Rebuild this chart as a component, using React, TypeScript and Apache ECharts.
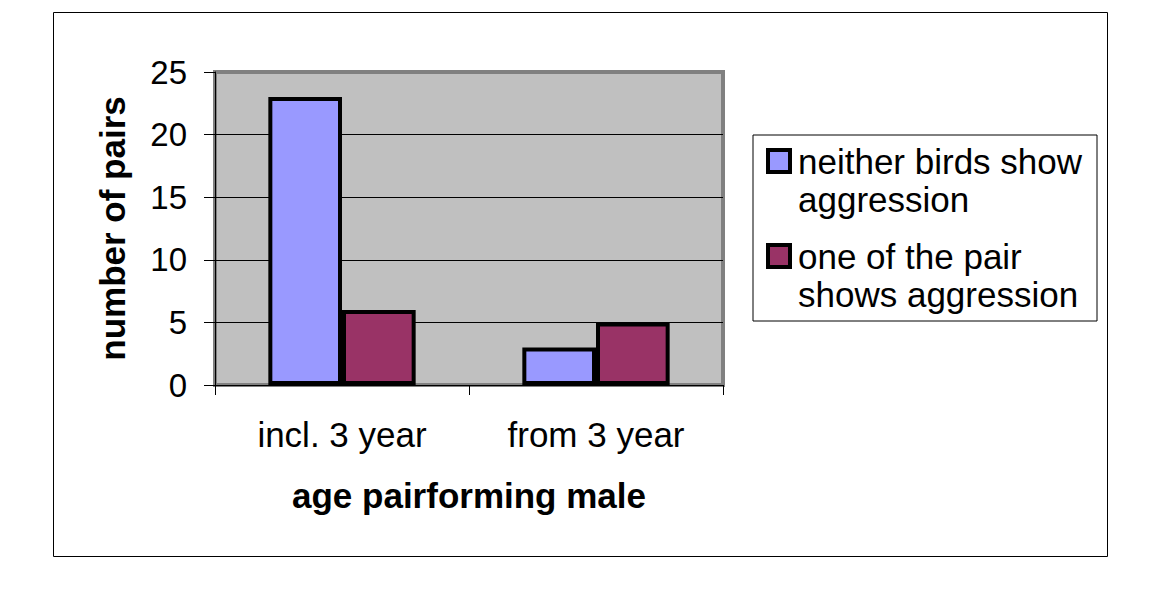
import React, { useEffect, useRef } from "react";
import * as echarts from "echarts";

const categories = ["incl. 3 year", "from 3 year"];
const seriesNames = ["neither birds show aggression", "one of the pair shows aggression"];
const legendLabels = ["neither birds show\naggression", "one of the pair\nshows aggression"];
const neitherValues = [23, 3];
const oneOfPairValues = [6, 5];
const yTicks = { min: 0, max: 25, interval: 5 };

const FONT = "'Liberation Sans', Arial, sans-serif";

export default function App() {
  const ref = useRef<HTMLDivElement>(null);
  useEffect(() => {
    if (!ref.current) return;
    const chart = echarts.init(ref.current, undefined, { renderer: "svg" });
    const legendIcon = "path://M0,0 M2,8 L24,8 L24,30 L2,30 Z M26,76";
    chart.setOption({
      animation: false,
      backgroundColor: "#ffffff",
      textStyle: { fontFamily: FONT, color: "#000" },
      graphic: [
        {
          type: "rect",
          shape: { x: 53.5, y: 12.5, width: 1054, height: 544 },
          style: { fill: "none", stroke: "#000", lineWidth: 1 },
          z: -10,
          silent: true,
        },
      ],
      grid: {
        left: 215,
        top: 72,
        width: 508,
        height: 313,
        show: true,
        backgroundColor: "#C0C0C0",
        borderColor: "#808080",
        borderWidth: 4,
      },
      legend: {
        orient: "vertical",
        left: 753,
        top: 135,
        padding: [5, 14, 6, 11],
        backgroundColor: "#ffffff",
        borderColor: "#000",
        borderWidth: 1,
        borderRadius: 0,
        itemGap: 15,
        itemWidth: 26,
        itemHeight: 76,
        icon: legendIcon,
        data: seriesNames,
        formatter: (name: string) => legendLabels[seriesNames.indexOf(name)],
        itemStyle: { borderColor: "#000", borderWidth: 4 },
        textStyle: {
          fontFamily: FONT,
          fontSize: 35,
          color: "#000",
          lineHeight: 38,
          width: 285,
          padding: [0, 0, 0, 1],
        },
      },
      xAxis: {
        type: "category",
        data: categories,
        name: "age pairforming male",
        nameLocation: "middle",
        nameGap: 93,
        nameTextStyle: { fontFamily: FONT, fontSize: 35, fontWeight: "bold", color: "#000" },
        axisLine: { show: true, lineStyle: { color: "#000", width: 1 } },
        axisTick: { show: true, length: 10, lineStyle: { color: "#000", width: 1 } },
        axisLabel: { fontFamily: FONT, fontSize: 35, color: "#000", margin: 32 },
        splitLine: { show: false },
      },
      yAxis: {
        type: "value",
        min: yTicks.min,
        max: yTicks.max,
        interval: yTicks.interval,
        name: "number of pairs",
        nameLocation: "middle",
        nameGap: 85,
        nameTextStyle: { fontFamily: FONT, fontSize: 35, fontWeight: "bold", color: "#000" },
        axisLine: { show: true, lineStyle: { color: "#000", width: 1 } },
        axisTick: { show: true, length: 11, lineStyle: { color: "#000", width: 1 } },
        axisLabel: { fontFamily: FONT, fontSize: 33, color: "#000", margin: 28 },
        splitLine: {
          show: true,
          showMinLine: false,
          showMaxLine: false,
          lineStyle: { color: "#000", width: 1 },
        },
      },
      series: [
        {
          name: seriesNames[0],
          type: "bar",
          data: neitherValues,
          barGap: "0%",
          barCategoryGap: "42%",
          itemStyle: { color: "#9999FF", borderColor: "#000", borderWidth: 4 },
        },
        {
          name: seriesNames[1],
          type: "bar",
          data: oneOfPairValues,
          barGap: "0%",
          barCategoryGap: "42%",
          itemStyle: { color: "#993366", borderColor: "#000", borderWidth: 4 },
        },
      ],
    });
    return () => chart.dispose();
  }, []);
  return (
    <div
      ref={ref}
      style={{ position: "fixed", left: 0, top: 0, width: 1169, height: 595 }}
    />
  );
}
